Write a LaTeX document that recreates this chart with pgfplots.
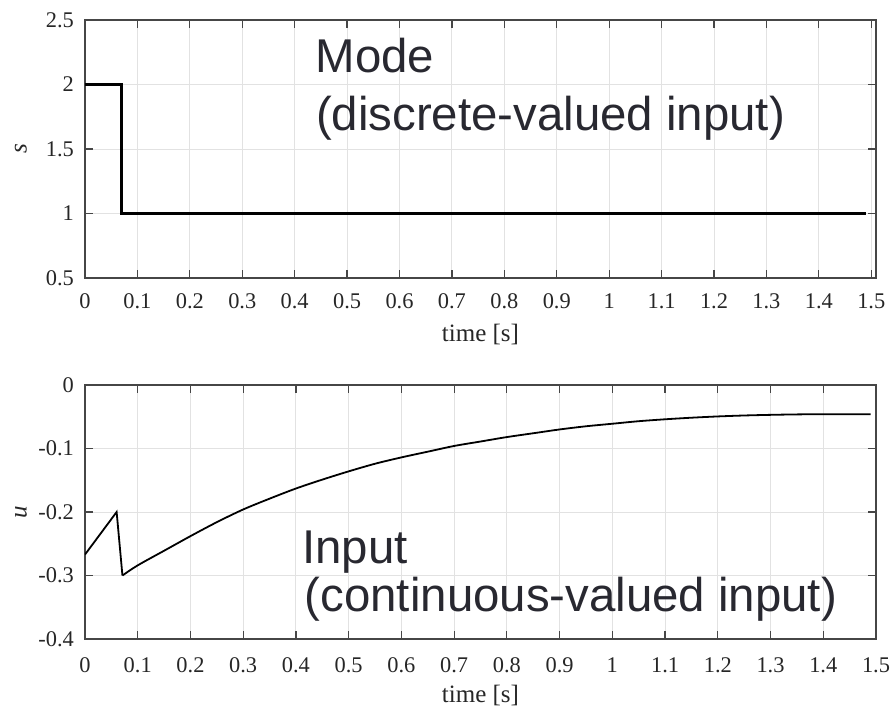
\documentclass[border=0pt]{standalone}
\usepackage{fontspec}
\setmainfont{Liberation Serif}
\newfontfamily\annfont{Liberation Sans}
\usepackage{pgfplots}
\pgfplotsset{compat=1.18}

\definecolor{anncol}{RGB}{40,40,48}
\definecolor{gridcol}{RGB}{226,226,226}
\definecolor{boxcol}{RGB}{70,70,70}

\tikzset{
  ann/.style={anchor=base west, inner sep=0pt, text=anncol,
    font=\annfont\fontsize{23.7}{28}\selectfont},
}

\pgfplotsset{
  mystyle/.style={
    scale only axis,
    width=395.5pt,
    grid=major,
    grid style={gridcol, line width=0.5pt},
    axis line style={boxcol, line width=0.7pt},
    major tick style={boxcol, line width=0.6pt},
    major tick length=4pt,
    tick align=inside,
    /pgf/number format/assume math mode=true,
    tick label style={font=\fontsize{11.2}{13}\selectfont, text=black!85},
    label style={font=\fontsize{12.5}{14}\selectfont, text=black!85},
    xticklabel style={anchor=base, yshift=-15pt},
    yticklabel style={anchor=east, xshift=-2pt},
    xlabel={time [s]},
    xlabel style={at={(axis description cs:0.5,0)}, anchor=base, yshift=-31.5pt},
    ylabel style={at={(axis description cs:-0.081,0.5)}, anchor=center},
    xtick={0,0.1,0.2,0.3,0.4,0.5,0.6,0.7,0.8,0.9,1,1.1,1.2,1.3,1.4,1.5},
    xmin=0,
  },
}

\begin{document}
\begin{tikzpicture}
\path[use as bounding box] (-42.5pt,-215pt) rectangle (402.5pt,139pt);

% top: mode
\begin{axis}[
  mystyle,
  name=top,
  at={(0,0)}, anchor=south west,
  height=129pt,
  xmax=1.509,
  ymin=0.5, ymax=2.5,
  ytick={0.5,1,1.5,2,2.5},
  ylabel={\textit{s}},
]
\addplot[black, line width=1.2pt] coordinates {
  (0,2) (0.07,2) (0.07,1) (1.49,1)
};
\node[ann] at (axis cs:0.439,2.091) {Mode};
\node[ann] at (axis cs:0.440,1.647) {(discrete-valued input)};
\end{axis}

% bottom: input
\begin{axis}[
  mystyle,
  at={(0,-53.5pt)}, anchor=north west,
  height=127pt,
  xmax=1.5,
  ymin=-0.4, ymax=0,
  ytick={-0.4,-0.3,-0.2,-0.1,0},
  ylabel={\textit{u}},
  xticklabel style={yshift=-1.5pt},
]
\addplot[black, line width=0.9pt] coordinates {
  (0,-0.267) (0.060,-0.200) (0.071,-0.300)
};
\addplot[black, line width=0.9pt, smooth] coordinates {
  (0.071,-0.300) (0.1,-0.284) (0.15,-0.261)
  (0.2,-0.238) (0.25,-0.216) (0.3,-0.196) (0.35,-0.179) (0.4,-0.163)
  (0.45,-0.149) (0.5,-0.136) (0.55,-0.124) (0.6,-0.114) (0.65,-0.105)
  (0.7,-0.096) (0.75,-0.089) (0.8,-0.082) (0.85,-0.076) (0.9,-0.070)
  (0.95,-0.065) (1.0,-0.061) (1.05,-0.057) (1.1,-0.054) (1.15,-0.0515)
  (1.2,-0.0495) (1.25,-0.048) (1.3,-0.047) (1.35,-0.0463) (1.4,-0.046)
  (1.49,-0.046)
};
\node[ann] at (axis cs:0.411,-0.2808) {Input};
\node[ann] at (axis cs:0.416,-0.357) {(continuous-valued input)};
\end{axis}
\end{tikzpicture}
\end{document}
